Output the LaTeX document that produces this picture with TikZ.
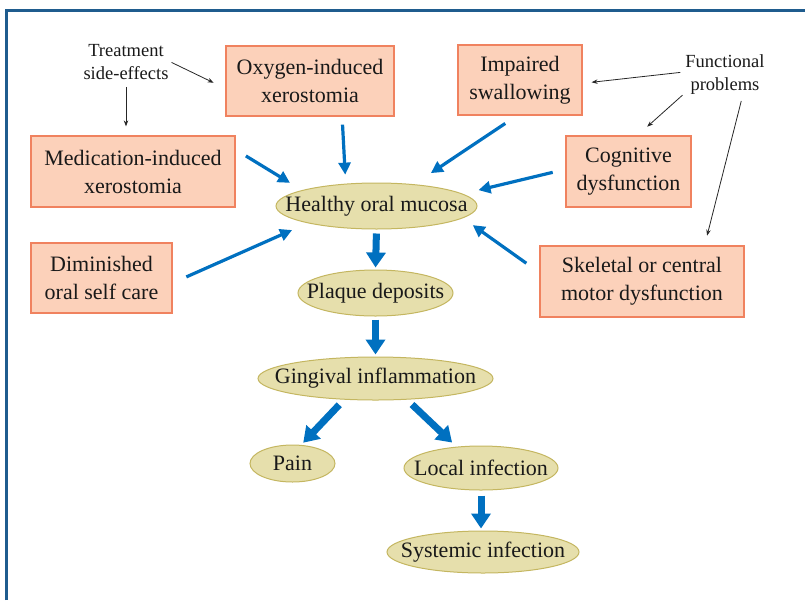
\documentclass[tikz,border=0pt]{standalone}
\usepackage{fontspec}
\setmainfont{Liberation Serif}
\usetikzlibrary{shapes.geometric,arrows.meta}
\definecolor{BoxPeach}{RGB}{252,209,186}
\definecolor{BoxEdge}{RGB}{240,130,95}
\definecolor{OvalKhaki}{RGB}{230,223,172}
\definecolor{OvalEdge}{RGB}{196,182,96}
\definecolor{FlowBlue}{RGB}{0,112,192}
\definecolor{FrameBlue}{RGB}{31,92,142}
\tikzset{
  box/.style={rectangle,draw=BoxEdge,fill=BoxPeach,line width=1.3pt,minimum height=70pt,align=center,
    text=black!90,font=\fontsize{22}{28}\selectfont},
  oval/.style={ellipse,draw=OvalEdge,fill=OvalKhaki,line width=1pt,inner xsep=-30pt,inner ysep=0pt,
    text=black!90,font=\fontsize{22}{28}\selectfont},
  note/.style={align=center,inner sep=2pt,text=black!90,font=\fontsize{18.5}{23}\selectfont},
}
\tikzset{feed/.style={draw=FlowBlue,line width=3.2pt,-{Triangle[length=12pt,width=12pt]}}, flow/.style={draw=FlowBlue,line width=7pt,-{Triangle[length=15pt,width=19pt]}},hint/.style={draw=black!85,line width=.8pt,-{Stealth[length=6pt,width=4.5pt]}}}
\begin{document}
\begin{tikzpicture}[x=1pt,y=-1pt]
\useasboundingbox (0,0) rectangle (805,600);
\draw[FrameBlue,line width=2.3pt] (6.5,600) -- (6.5,10.5) -- (805,10.5);
\node[note](treat) at (126,62){Treatment\\side-effects};\node[note](func) at (725,75){Functional\\problems};
\node[box,minimum width=168pt](oxy) at (310,81){Oxygen-induced\\xerostomia};
\node[box,minimum width=124pt](swallow) at (520,80){Impaired\\swallowing};
\node[box,minimum width=204pt,minimum height=71pt](medic) at (133,171.5){Medication-induced\\xerostomia};
\node[box,minimum width=125pt,minimum height=71pt](cogn) at (628.5,171.5){Cognitive\\dysfunction};
\node[box,minimum width=141pt](selfcare) at (101.5,278){Diminished\\oral self care};
\node[box,minimum width=204pt,minimum height=71pt](motor) at (642,281.5){Skeletal or central\\motor dysfunction};
\node[oval,minimum width=201pt,minimum height=46pt](healthy) at (376.5,206){Healthy oral mucosa};
\node[oval,minimum width=155pt,minimum height=46pt](plaque) at (375.5,293){Plaque deposits};
\node[oval,minimum width=235pt,minimum height=43pt](gingiva) at (375.5,378.5){Gingival inflammation};
\node[oval,minimum width=85pt,minimum height=37pt](pain) at (292.5,463.5){Pain};
\node[oval,minimum width=154pt,minimum height=44pt](local) at (481,468){Local infection};
\node[oval,minimum width=192pt,minimum height=42pt](systemic) at (483,552){Systemic infection};
\draw[feed,shorten <=8pt,shorten >=9pt](oxy.-48)--(healthy.144);\draw[feed,shorten <=14pt,shorten >=20pt](swallow.-95)--(healthy.30);
\draw[feed,shorten <=12pt,shorten >=14pt](medic.12)--(healthy.168);\draw[feed,shorten <=13pt,shorten >=16pt](cogn.178)--(healthy.8);
\draw[feed,shorten <=15pt,shorten >=17pt](selfcare.-4)--(healthy.194);\draw[feed,shorten <=16pt,shorten >=12pt](motor.175)--(healthy.-8);
\draw[flow,shorten <=4pt,shorten >=2pt](healthy.south)--(plaque.north);\draw[flow,shorten <=3pt,shorten >=2pt](plaque.south)--(gingiva.north);
\draw[flow,shorten <=7pt,shorten >=3pt](gingiva.-146)--(pain.65);\draw[flow,shorten <=7pt,shorten >=6pt](gingiva.-34)--(local.139);
\draw[flow,shorten <=5pt,shorten >=2pt](local.south)--(local.south |- systemic.north);
\draw[hint,shorten <=1pt,shorten >=13pt](treat.east)--(oxy.185);\draw[hint,shorten <=5pt,shorten >=9pt](treat.south)--(treat.south |- medic.north);
\draw[hint,shorten <=3pt,shorten >=9pt](func.176)--(swallow.-3);\draw[hint,shorten <=1pt,shorten >=13pt](func.-155)--(cogn.76);
\draw[hint,shorten <=4pt,shorten >=10pt](func.-52)--(motor.30);
\end{tikzpicture}
\end{document}
